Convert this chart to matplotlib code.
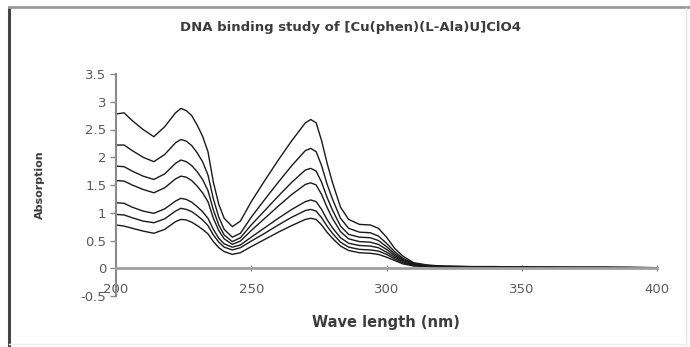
import matplotlib
matplotlib.use("Agg")
import matplotlib.pyplot as plt
from matplotlib.lines import Line2D

title = "DNA binding study of [Cu(phen)(L-Ala)U]ClO4"
xlabel = "Wave length (nm)"
ylabel = "Absorption"
xticks = [200, 250, 300, 350, 400]
yticks = [-0.5, 0, 0.5, 1, 1.5, 2, 2.5, 3, 3.5]
ytick_labels = ["-0.5", "0", "0.5", "1", "1.5", "2", "2.5", "3", "3.5"]

wavelength = [200, 203, 206, 210, 214, 218, 222, 224, 226, 228, 230, 232, 234, 236, 238, 240,
              243, 246, 250, 255, 260, 265, 270, 272, 274, 276, 278, 280, 283, 286, 290, 294,
              297, 300, 303, 306, 310, 315, 320, 330, 340, 350, 360, 370, 380, 390, 400]

abs_1 = [2.78, 2.80, 2.66, 2.50, 2.37, 2.55, 2.80, 2.88, 2.84, 2.75, 2.58, 2.38, 2.10, 1.55, 1.15, 0.90,
         0.75, 0.85, 1.20, 1.58, 1.95, 2.30, 2.62, 2.68, 2.62, 2.30, 1.90, 1.55, 1.10, 0.88, 0.79, 0.78,
         0.72, 0.56, 0.36, 0.22, 0.10, 0.06, 0.04, 0.03, 0.03, 0.02, 0.02, 0.02, 0.02, 0.02, 0.01]
abs_2 = [2.22, 2.22, 2.12, 2.00, 1.92, 2.05, 2.26, 2.32, 2.29, 2.21, 2.08, 1.92, 1.68, 1.25, 0.92, 0.70,
         0.56, 0.63, 0.92, 1.24, 1.55, 1.85, 2.12, 2.16, 2.10, 1.85, 1.52, 1.25, 0.90, 0.72, 0.65, 0.64,
         0.58, 0.45, 0.30, 0.18, 0.09, 0.05, 0.04, 0.03, 0.02, 0.02, 0.02, 0.02, 0.02, 0.01, 0.01]
abs_3 = [1.84, 1.83, 1.75, 1.66, 1.60, 1.70, 1.89, 1.95, 1.92, 1.85, 1.74, 1.60, 1.40, 1.05, 0.78, 0.60,
         0.48, 0.55, 0.78, 1.04, 1.30, 1.55, 1.77, 1.80, 1.75, 1.55, 1.28, 1.05, 0.76, 0.61, 0.56, 0.55,
         0.50, 0.39, 0.26, 0.16, 0.08, 0.05, 0.03, 0.02, 0.02, 0.02, 0.02, 0.01, 0.01, 0.01, 0.01]
abs_4 = [1.58, 1.57, 1.50, 1.42, 1.36, 1.45, 1.61, 1.66, 1.64, 1.58, 1.48, 1.36, 1.20, 0.90, 0.68, 0.53,
         0.43, 0.49, 0.68, 0.90, 1.12, 1.33, 1.51, 1.54, 1.50, 1.33, 1.10, 0.90, 0.66, 0.53, 0.48, 0.47,
         0.43, 0.34, 0.23, 0.14, 0.07, 0.04, 0.03, 0.02, 0.02, 0.02, 0.01, 0.01, 0.01, 0.01, 0.01]
abs_5 = [1.18, 1.17, 1.10, 1.03, 0.99, 1.07, 1.21, 1.26, 1.24, 1.19, 1.11, 1.02, 0.90, 0.70, 0.54, 0.44,
         0.38, 0.42, 0.56, 0.73, 0.90, 1.06, 1.20, 1.23, 1.20, 1.06, 0.88, 0.73, 0.55, 0.45, 0.41, 0.40,
         0.37, 0.29, 0.20, 0.12, 0.06, 0.04, 0.03, 0.02, 0.02, 0.01, 0.01, 0.01, 0.01, 0.01, 0.01]
abs_6 = [0.97, 0.96, 0.91, 0.85, 0.82, 0.89, 1.03, 1.08, 1.06, 1.02, 0.95, 0.87, 0.77, 0.60, 0.47, 0.38,
         0.33, 0.37, 0.49, 0.63, 0.78, 0.92, 1.04, 1.06, 1.03, 0.91, 0.76, 0.63, 0.47, 0.38, 0.34, 0.33,
         0.31, 0.25, 0.17, 0.10, 0.05, 0.03, 0.02, 0.02, 0.01, 0.01, 0.01, 0.01, 0.01, 0.01, 0.01]
abs_7 = [0.78, 0.76, 0.72, 0.67, 0.63, 0.70, 0.84, 0.88, 0.87, 0.83, 0.77, 0.70, 0.62, 0.48, 0.37, 0.30,
         0.25, 0.28, 0.39, 0.52, 0.65, 0.77, 0.88, 0.90, 0.88, 0.78, 0.65, 0.54, 0.40, 0.32, 0.28, 0.27,
         0.25, 0.20, 0.14, 0.08, 0.04, 0.03, 0.02, 0.02, 0.01, 0.01, 0.01, 0.01, 0.01, 0.01, 0.01]

series = [abs_1, abs_2, abs_3, abs_4, abs_5, abs_6, abs_7]

plt.rcParams['font.family'] = ['DejaVu Sans']

fig = plt.figure(figsize=(6.9, 3.47), dpi=100)
fig.patch.set_facecolor('white')

# outer frame (chart border)
fig.add_artist(Line2D([9/690, 9/690], [0, 1 - 8/347], transform=fig.transFigure, color='#444444', lw=2.2))
fig.add_artist(Line2D([9/690, 1], [1 - 7/347, 1 - 7/347], transform=fig.transFigure, color='#9a9a9a', lw=2.0))
fig.add_artist(Line2D([686/690, 686/690], [2/347, 1 - 8/347], transform=fig.transFigure, color='#e4e4e4', lw=1.0))
fig.add_artist(Line2D([9/690, 686/690], [3/347, 3/347], transform=fig.transFigure, color='#eeeeee', lw=1.0))

ax = fig.add_axes([116/690, 1 - 296/347, (657 - 116)/690, (296 - 74)/347])
for s in series:
    ax.plot(wavelength, s, color='#1a1a1a', lw=1.0)

ax.set_xlim(200, 400)
ax.set_ylim(-0.5, 3.5)
ax.spines['top'].set_visible(False)
ax.spines['right'].set_visible(False)
ax.spines['bottom'].set_position(('data', 0))
ax.spines['bottom'].set_color('#a0a0a0')
ax.spines['bottom'].set_linewidth(2.0)
ax.spines['left'].set_color('#8a8a8a')
ax.spines['left'].set_linewidth(1.5)

ax.set_xticks(xticks)
ax.set_xticklabels([str(v) for v in xticks])
ax.set_yticks(yticks)
ax.set_yticklabels(ytick_labels)
ax.tick_params(axis='x', direction='inout', length=5, width=0.8, colors='#777777',
               labelcolor='#5a5a5a', labelsize=9.5, pad=8)
ax.tick_params(axis='y', direction='out', length=4, width=1.0, colors='#8a8a8a',
               labelcolor='#5a5a5a', labelsize=9.5, pad=3)

fig.text(351/690, 1 - 27/347, title, ha='center', va='center', fontsize=9.5,
         fontweight='bold', color='#3c3c3c')
fig.text(386/690, 1 - 322/347, xlabel, ha='center', va='center', fontsize=10.5,
         fontweight='bold', color='#3c3c3c')
fig.text(40/690, 1 - 185/347, ylabel, ha='center', va='center', rotation=90,
         fontsize=8, fontweight='bold', color='#3c3c3c')

fig.savefig('out.png', dpi=100, facecolor='white')
